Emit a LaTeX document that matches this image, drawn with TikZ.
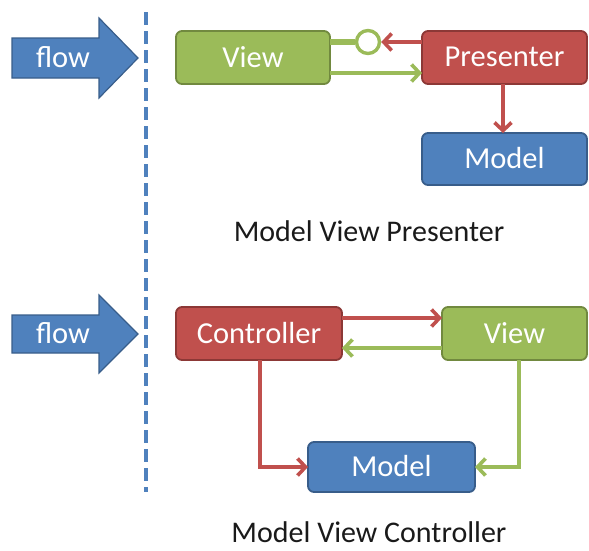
\documentclass[tikz,border=0pt]{standalone}
\usepackage{fontspec}
\setmainfont{Carlito}
\usetikzlibrary{arrows.meta,positioning}
\definecolor{gfill}{HTML}{9BBB59}
\definecolor{gdraw}{HTML}{71893F}
\definecolor{rfill}{HTML}{C0504D}
\definecolor{rdraw}{HTML}{8C3836}
\definecolor{bfill}{HTML}{4F81BD}
\definecolor{bdraw}{HTML}{385D8A}
\definecolor{capcol}{HTML}{1A1A1A}
\tikzset{
  x=1pt, y=-1pt,
  box/.style={rounded corners=6pt, line width=1.8pt},
  gbox/.style={box, fill=gfill, draw=gdraw},
  rbox/.style={box, fill=rfill, draw=rdraw},
  bbox/.style={box, fill=bfill, draw=bdraw},
  boxtext/.style={text=white, font=\fontsize{30.5}{33}\selectfont, inner sep=0pt},
  conn/.style={line width=3.6pt, -{Straight Barb[length=8pt,width=17pt,line width=3.6pt]}},
  rconn/.style={conn, draw=rfill},
  gconn/.style={conn, draw=gfill},
  caption/.style={text=capcol, font=\fontsize{30}{33}\selectfont, inner sep=0pt},
  flowarrow/.style={fill=bfill, draw=bdraw, line width=1.2pt}
}
\begin{document}
\begin{tikzpicture}
\useasboundingbox (0,0) rectangle (589,550);
% flow arrows
\draw[flowarrow] (12,38) -- (99,38) -- (99,18) -- (138,58) -- (99,98) -- (99,78) -- (12,78) -- cycle;
\node[boxtext] (flow1) at (63,57) {flow};
\draw[flowarrow] (12,315) -- (99,315) -- (99,295) -- (138,334) -- (99,373) -- (99,353) -- (12,353) -- cycle;
\node[boxtext] (flow2) at (63,333) {flow};
% dashed separator
\coordinate (dtop) at (146,12);
\coordinate (dbot) at (146,492);
\draw[bfill, line width=4.5pt, dash pattern=on 13pt off 6pt] (dtop) -- (dbot);
% MVP
\path[gbox] (176,31) rectangle (330,84);
\node[boxtext] (view1) at (253,57) {View};
\path[rbox] (422,31) rectangle (587,84);
\node[boxtext] (pres) at (504.5,57) {Presenter};
\path[bbox] (422,133) rectangle (587,185);
\node[boxtext] (model1) at (504.5,158.5) {Model};
\node[circle, draw=gfill, fill=white, line width=3.4pt, minimum size=23pt, inner sep=0pt] (iface) at (368,42) {};
\coordinate (v1a) at (330,42);
\coordinate (v1b) at (330,73);
\coordinate (p1a) at (422,42);
\coordinate (p1b) at (422,73);
\coordinate (p1c) at (503,84);
\coordinate (m1t) at (503,133);
\draw[gfill, line width=6pt] (v1a) -- (iface.west);
\draw[rconn] (p1a) -- (iface.east);
\draw[gconn] (v1b) -- (p1b);
\draw[rconn] (p1c) -- (m1t);
\node[caption] (cap1) at (369,231) {Model View Presenter};
% MVC
\path[rbox] (176,307) rectangle (342,360);
\node[boxtext] (ctrl) at (259,333) {Controller};
\path[gbox] (442,307) rectangle (587,360);
\node[boxtext] (view2) at (514.5,333) {View};
\path[bbox] (308,442) rectangle (475,492);
\node[boxtext] (model2) at (391.5,466.5) {Model};
\coordinate (c2a) at (342,318);
\coordinate (v2a) at (442,318);
\coordinate (v2b) at (442,348);
\coordinate (c2b) at (342,348);
\coordinate (c2c) at (260,360);
\coordinate (m2w) at (308,467);
\coordinate (v2c) at (519,360);
\coordinate (m2e) at (475,467);
\draw[rconn] (c2a) -- (v2a);
\draw[gconn] (v2b) -- (c2b);
\draw[rconn] (c2c) |- (m2w);
\draw[gconn] (v2c) |- (m2e);
\node[caption] (cap2) at (369,532) {Model View Controller};
\end{tikzpicture}
\end{document}
